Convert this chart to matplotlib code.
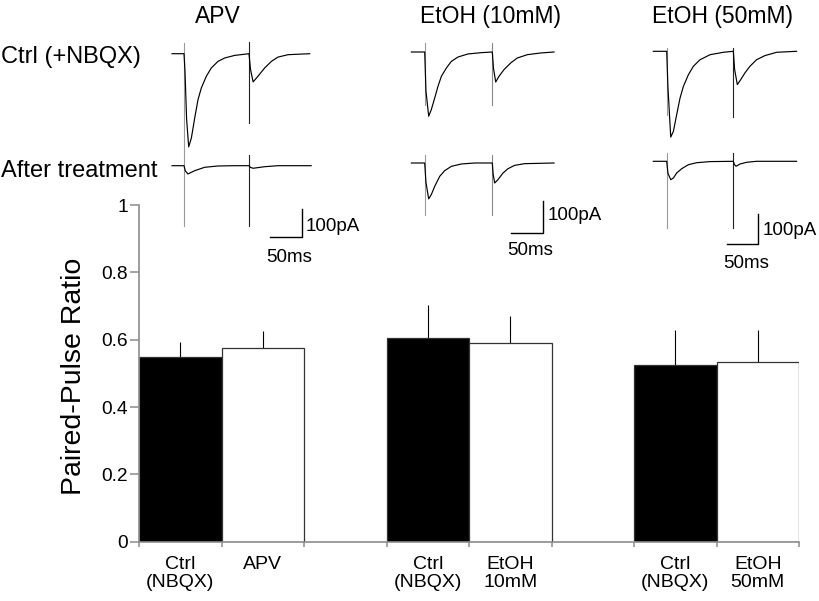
import numpy as np
import matplotlib
matplotlib.use("Agg")
import matplotlib.pyplot as plt

plt.rcParams['font.family'] = ['Liberation Sans', 'DejaVu Sans']

# Bar data (paired-pulse ratio, mean and upper error)
bar_labels = ['Ctrl\n(NBQX)', 'APV', 'Ctrl\n(NBQX)', 'EtOH\n10mM', 'Ctrl\n(NBQX)', 'EtOH\n50mM']
bar_slots = [0.5, 1.5, 3.5, 4.5, 6.5, 7.5]
ppr_mean = [0.550, 0.574, 0.606, 0.591, 0.525, 0.534]
ppr_err = [0.042, 0.051, 0.098, 0.080, 0.104, 0.096]
bar_fill = ['black', 'white', 'black', 'white', 'black', 'white']

col_titles = ['APV', 'EtOH (10mM)', 'EtOH (50mM)']

# Example traces, time in ms from first stimulus, current in pA from baseline
apv_ctrl_t = [-18.4, 0, 1.5, 4, 7.2, 11.3, 16.4, 21.5, 26.6, 34.3, 41.9, 52.1, 62.4, 77.7, 99.7,
              102, 106, 113.5, 123.7, 134, 144, 159.5, 192.8]
apv_ctrl_i = [0, 0, -60, -230, -327, -296, -226, -161, -120, -79, -50, -27, -15, -6, 0,
              -55, -99, -79, -50, -27, -12, -3.5, 0]
apv_after_t = [-18.4, 0, 2, 6.1, 16.4, 31.7, 52, 77.7, 99.7, 102, 106, 123.7, 144, 195]
apv_after_i = [0, 0, -18, -29, -17.5, -5.6, -1, 0, 0, -6, -9, -3.5, 0, 0]

e10_ctrl_t = [-21, 0, 2, 6.3, 10.4, 15.8, 21, 26.3, 34.2, 42.1, 52.6, 68.3, 89.4, 106.6,
              108.5, 112, 117.2, 125.1, 135.6, 146, 161.9, 182.9, 204]
e10_ctrl_i = [0, 0, -120, -197, -177, -141, -105, -74.5, -49, -28.6, -15.3, -6, -2, 0,
              -50, -92, -74.5, -54, -33.7, -18.4, -8.2, -3, 0]
e10_after_t = [-21, 0, 2, 6.3, 10.4, 15.8, 23.7, 31.5, 42.1, 57.8, 78.9, 106.6,
               108, 110.4, 115.6, 123.5, 131.4, 141.9, 157.7, 204]
e10_after_i = [0, 0, -60, -110, -97, -71.6, -40.9, -23.5, -10.2, -3, 0, 0,
               -35, -61.3, -51, -30.7, -17.4, -7.2, -2, 0]

e50_ctrl_t = [-21.6, 0, 2, 6.5, 10.8, 16.1, 21.5, 26.9, 35, 43, 53.8, 70, 91.4, 107.5,
              109.5, 113.9, 119.2, 126.2, 134.2, 145, 158.5, 177.3, 209.5]
e50_ctrl_i = [0, 0, -120, -286, -267, -211, -156, -117, -78, -50, -28, -11.3, -3.3, 0,
              -60, -111, -95, -72, -50, -28, -14.3, -3.3, 0]
e50_after_t = [-21.6, 0, 2, 6.5, 10.8, 16.1, 24.2, 35, 48.4, 70, 107.5,
               109, 111.8, 118.3, 129, 145, 209.5]
e50_after_i = [0, 0, -40, -61.3, -55.7, -39, -24.7, -11.3, -4.7, -1, 0,
               -10, -16.7, -9, -3.3, 0, 0]

# stimulus artifacts: times (ms), top and bottom (pA)
apv_stim = [0, 99.7]
apv_ctrl_art = ([37.5, 41], [-352, -243])
apv_after_art = ([37.5, 37.5], [-211, -211])
e10_stim = [0, 106.6]
e10_ctrl_art = ([27.6, 27.6], [-162, -162])
e10_after_art = ([25.5, 25.5], [-160, -160])
e50_stim = [0, 107.5]
e50_ctrl_art = ([11, 11], [-213, -220])
e50_after_art = ([27.7, 27.7], [-223, -223])

W, H = 819, 601
fig = plt.figure(figsize=(W / 100, H / 100), dpi=100)


def px_axes(x0, y0, x1, y1):
    return fig.add_axes([x0 / W, 1 - y1 / H, (x1 - x0) / W, (y1 - y0) / H])


# ---- bar chart ----
ax = px_axes(139, 205, 799, 541.7)
ax.bar(bar_slots, ppr_mean, width=1.0, color=bar_fill, edgecolor='#333333', linewidth=0.9, zorder=2)
ax.errorbar(bar_slots, ppr_mean, yerr=[np.zeros(len(ppr_err)), ppr_err], fmt='none',
            ecolor='black', elinewidth=0.8, capsize=0, zorder=1)
ax.set_xlim(0, 8)
ax.set_ylim(0, 1)
for s in ['top', 'right']:
    ax.spines[s].set_visible(False)
for s in ['left', 'bottom']:
    ax.spines[s].set_color('#8c8c8c')
    ax.spines[s].set_linewidth(1.2)
ax.set_yticks([0, 0.2, 0.4, 0.6, 0.8, 1.0])
ax.set_yticklabels(['0', '0.2', '0.4', '0.6', '0.8', '1'], fontsize=13.8)
ax.set_xticks(range(9))
ax.set_xticklabels([])
ax.tick_params(axis='y', length=6.3, width=1.1, color='#8c8c8c', pad=1.6)
ax.tick_params(axis='x', length=3.5, width=1.1, color='#8c8c8c')
for xs, lab in zip(bar_slots, bar_labels):
    ax.annotate(lab, xy=(xs, 0), xycoords=('data', 'axes fraction'), xytext=(0, -10.5),
                textcoords='offset points', ha='center', va='top', fontsize=14, linespacing=1.05)
fig.text(74 / W, 1 - 376 / H, 'Paired-Pulse Ratio', rotation=90, ha='center', va='center', fontsize=20.5)

# ---- example traces ----
columns = [
    dict(stim_px=184, base_ctrl=53.7, base_after=165.7, px_ms=0.652, px_pa=0.285,
         ctrl=(apv_ctrl_t, apv_ctrl_i), after=(apv_after_t, apv_after_i),
         stim=apv_stim, ctrl_art=apv_ctrl_art, after_art=apv_after_art,
         art_col=['#9a9a9a', '#222222'], bar_px=(302.3, 237.3)),
    dict(stim_px=424.7, base_ctrl=52, base_after=163, px_ms=0.634, px_pa=0.326,
         ctrl=(e10_ctrl_t, e10_ctrl_i), after=(e10_after_t, e10_after_i),
         stim=e10_stim, ctrl_art=e10_ctrl_art, after_art=e10_after_art,
         art_col=['#9a9a9a', '#888888'], bar_px=(542.7, 233.3)),
    dict(stim_px=666.7, base_ctrl=51.3, base_after=161.3, px_ms=0.62, px_pa=0.30,
         ctrl=(e50_ctrl_t, e50_ctrl_i), after=(e50_after_t, e50_after_i),
         stim=e50_stim, ctrl_art=e50_ctrl_art, after_art=e50_after_art,
         art_col=['#9a9a9a', '#222222'], bar_px=(757.7, 244)),
]

for c in columns:
    x0, x1, y0, y1 = c['stim_px'] - 25, c['stim_px'] + 150, 30, 250
    tax = px_axes(x0, y0, x1, y1)
    tax.set_xlim((x0 - c['stim_px']) / c['px_ms'], (x1 - c['stim_px']) / c['px_ms'])
    tax.set_ylim((c['base_after'] - y1) / c['px_pa'], (c['base_after'] - y0) / c['px_pa'])
    tax.axis('off')
    shift = (c['base_after'] - c['base_ctrl']) / c['px_pa']
    for (tt, ii), (tops, bots), off in [(c['ctrl'], c['ctrl_art'], shift), (c['after'], c['after_art'], 0)]:
        for k, ts in enumerate(c['stim']):
            tax.plot([ts, ts], [tops[k] + off, bots[k] + off], color=c['art_col'][k], lw=0.8)
        tax.plot(tt, np.array(ii) + off, color='black', lw=0.85)
    # scale bar: 100 pA, 50 ms
    bt = (c['bar_px'][0] - c['stim_px']) / c['px_ms']
    bi = (c['base_after'] - c['bar_px'][1]) / c['px_pa']
    tax.plot([bt - 50, bt, bt], [bi, bi, bi + 100], color='black', lw=1.0)

# scale labels
for x, y, s, ha in [(306, 231, '100pA', 'left'), (288.7, 261.7, '50ms', 'center'),
                    (547.7, 220, '100pA', 'left'), (530, 255, '50ms', 'center'),
                    (762.7, 235, '100pA', 'left'), (745.7, 268, '50ms', 'center')]:
    fig.text(x / W, 1 - y / H, s, ha=ha, va='baseline', fontsize=13.5)

# column titles and row labels
for x, t in zip([218, 490, 723], col_titles):
    fig.text(x / W, 1 - 22.7 / H, t, ha='center', va='baseline', fontsize=16.5)
fig.text(1 / W, 1 - 63.3 / H, 'Ctrl (+NBQX)', ha='left', va='baseline', fontsize=17)
fig.text(1 / W, 1 - 176.7 / H, 'After treatment', ha='left', va='baseline', fontsize=17)

fig.savefig('out.png', dpi=100)
